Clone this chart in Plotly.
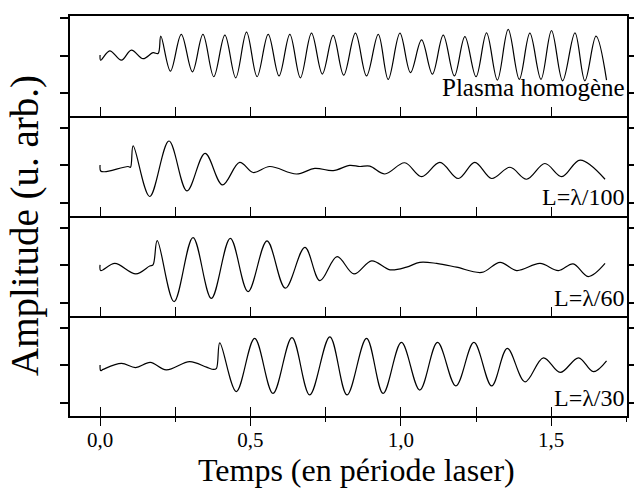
import plotly.graph_objects as go

# ---- data (time in laser periods, amplitude in arb. units) ----
t1 = [0.0, 0.002, 0.032, 0.071, 0.104, 0.143, 0.176, 0.193, 0.202, 0.234, 0.270, 0.307, 0.342,
      0.378, 0.415, 0.451, 0.487, 0.522, 0.559, 0.595, 0.631, 0.666, 0.703, 0.739, 0.775, 0.810,
      0.849, 0.886, 0.925, 0.958, 0.997, 1.032, 1.069, 1.105, 1.141, 1.178, 1.213, 1.250, 1.285,
      1.321, 1.357, 1.394, 1.429, 1.466, 1.501, 1.538, 1.579, 1.612, 1.649, 1.684]
a1 = [0.02, -0.12, 0.13, -0.12, 0.15, -0.08, 0.08, 0.06, 0.52, -0.41, 0.57, -0.43, 0.57,
      -0.56, 0.55, -0.59, 0.63, -0.56, 0.57, -0.54, 0.57, -0.59, 0.60, -0.49, 0.54, -0.52,
      0.60, -0.54, 0.57, -0.63, 0.60, -0.45, 0.42, -0.49, 0.55, -0.54, 0.51, -0.56, 0.61,
      -0.65, 0.70, -0.63, 0.60, -0.63, 0.67, -0.67, 0.61, -0.67, 0.52, -0.65]

t2 = [0.0, 0.002, 0.015, 0.093, 0.101, 0.110, 0.165, 0.229, 0.289, 0.349, 0.407, 0.464, 0.509,
      0.564, 0.653, 0.714, 0.775, 0.830, 0.864, 0.897, 0.947, 1.013, 1.069, 1.130, 1.191, 1.246,
      1.302, 1.363, 1.418, 1.479, 1.535, 1.596, 1.679]
a2 = [0.0, -0.16, -0.18, -0.04, -0.06, 0.51, -0.84, 0.64, -0.69, 0.31, -0.53, 0.07, -0.20,
      -0.04, -0.24, -0.09, -0.15, -0.01, -0.04, -0.03, -0.24, 0.06, -0.31, 0.07, -0.36, 0.07,
      -0.36, -0.06, -0.38, 0.04, -0.31, 0.13, -0.38]

t3 = [0.0, 0.002, 0.049, 0.119, 0.165, 0.176, 0.190, 0.246, 0.309, 0.370, 0.433, 0.492, 0.555,
      0.616, 0.681, 0.731, 0.788, 0.844, 0.903, 0.964, 1.019, 1.063, 1.119, 1.185, 1.269, 1.330,
      1.385, 1.463, 1.524, 1.573, 1.623, 1.679]
a3 = [0.01, -0.14, 0.05, -0.23, -0.02, 0.01, 0.66, -0.97, 0.74, -0.88, 0.72, -0.70, 0.65,
      -0.61, 0.48, -0.41, 0.23, -0.23, 0.12, -0.12, -0.05, 0.08, 0.05, -0.05, -0.19, 0.08,
      -0.14, 0.05, -0.14, 0.04, -0.30, 0.05]

t4 = [0.0, 0.002, 0.010, 0.071, 0.118, 0.167, 0.220, 0.298, 0.354, 0.378, 0.387, 0.398, 0.453,
      0.514, 0.575, 0.638, 0.697, 0.764, 0.821, 0.886, 0.941, 1.002, 1.063, 1.122, 1.183, 1.243,
      1.302, 1.354, 1.413, 1.474, 1.530, 1.591, 1.640, 1.684]
a4 = [0.01, -0.14, -0.11, 0.05, -0.06, 0.08, -0.12, 0.10, -0.05, -0.11, -0.08, 0.60, -0.70,
      0.72, -0.75, 0.74, -0.79, 0.76, -0.79, 0.72, -0.75, 0.61, -0.66, 0.61, -0.55, 0.61,
      -0.55, 0.45, -0.44, 0.20, -0.19, 0.20, -0.17, 0.12]

panel_labels = ["Plasma homogène", "L=λ/100", "L=λ/60", "L=λ/30"]
label_sizes = [25, 24, 24, 24]
x_tickvals = [0.0, 0.5, 1.0, 1.5]
x_ticktext = ["0,0", "0,5", "1,0", "1,5"]
x_title = "Temps (en période laser)"
y_title = "Amplitude (u. arb.)"

series = [(t1, a1), (t2, a2), (t3, a3), (t4, a4)]

FONT = "Liberation Serif, Times New Roman, serif"
XR = [-0.1, 1.752]
yranges = [[-1.608, 1.059], [-1.36, 1.307], [-1.352, 1.315], [-1.352, 1.315]]
domains = [[0.75, 1.0], [0.5, 0.75], [0.25, 0.5], [0.0, 0.25]]

fig = go.Figure()
for i, (t, a) in enumerate(series):
    n = "" if i == 0 else str(i + 1)
    fig.add_trace(go.Scatter(x=t, y=a, mode="lines", xaxis="x" + n, yaxis="y" + n,
                             line=dict(color="black", width=1.2, shape="spline", smoothing=1.0),
                             hoverinfo="skip", showlegend=False))
# carrier trace for the labelled overlay axis
fig.add_trace(go.Scatter(x=[], y=[], xaxis="x5", yaxis="y4", showlegend=False))

layout = dict(
    width=634, height=490, autosize=False,
    margin=dict(l=70, r=7, t=16, b=74, autoexpand=False),
    paper_bgcolor="white", plot_bgcolor="white",
    font=dict(family=FONT, color="black"),
    separators=", ",
    showlegend=False,
)
for i in range(4):
    n = "" if i == 0 else str(i + 1)
    layout["xaxis" + n] = dict(
        domain=[0, 1], anchor="y" + n, range=XR, automargin=False,
        showline=True, linecolor="black", linewidth=1.6, mirror=(i == 0),
        ticks="inside", ticklen=9, tickwidth=1.3, tickcolor="black",
        tickvals=[0, 0.25, 0.5, 0.75, 1.0, 1.25, 1.5, 1.75],
        showticklabels=False, showgrid=False, zeroline=False,
    )
    layout["yaxis" + n] = dict(
        domain=domains[i], anchor="x" + n, range=yranges[i], automargin=False,
        showline=True, linecolor="black", linewidth=1.6, mirror="allticks",
        ticks="outside", ticklen=8, tickwidth=1.5, tickcolor="black",
        tickvals=[-1, 0, 1], showticklabels=False, showgrid=False, zeroline=False,
    )
layout["xaxis5"] = dict(
    overlaying="x4", anchor="y4", side="bottom", range=XR, automargin=False,
    showline=False, ticks="outside", ticklen=9, tickwidth=1.3, tickcolor="black",
    tickvals=x_tickvals, ticktext=x_ticktext, ticklabelstandoff=-4,
    tickfont=dict(family=FONT, size=21, color="black"),
    minor=dict(ticks="outside", ticklen=5, tickwidth=1.3, tickcolor="black",
               tickvals=[0.25, 0.75, 1.25, 1.75]),
    showgrid=False, zeroline=False,
)

annotations = []
for i, lab in enumerate(panel_labels):
    n = "" if i == 0 else str(i + 1)
    annotations.append(dict(text=lab, xref="paper", x=1.0, xanchor="right", xshift=0,
                            yref="y" + n, y=-0.86, yanchor="middle", showarrow=False,
                            font=dict(family=FONT, size=label_sizes[i], color="black")))
annotations.append(dict(text=x_title, xref="paper", yref="paper", x=0.515, y=-0.13375,
                        xanchor="center", yanchor="middle", showarrow=False,
                        font=dict(family=FONT, size=32, color="black")))
annotations.append(dict(text=y_title, xref="paper", yref="paper", x=-0.0808, y=0.4775,
                        xanchor="center", yanchor="middle", textangle=-90, showarrow=False,
                        font=dict(family=FONT, size=39, color="black")))
layout["annotations"] = annotations

fig.update_layout(**layout)
# drop the page's default body margin so the 634x490 figure fills the window exactly
fig.write_html("out.html", config={"displayModeBar": False},
               post_script="document.body.style.margin='0px';document.body.style.overflow='hidden';")
